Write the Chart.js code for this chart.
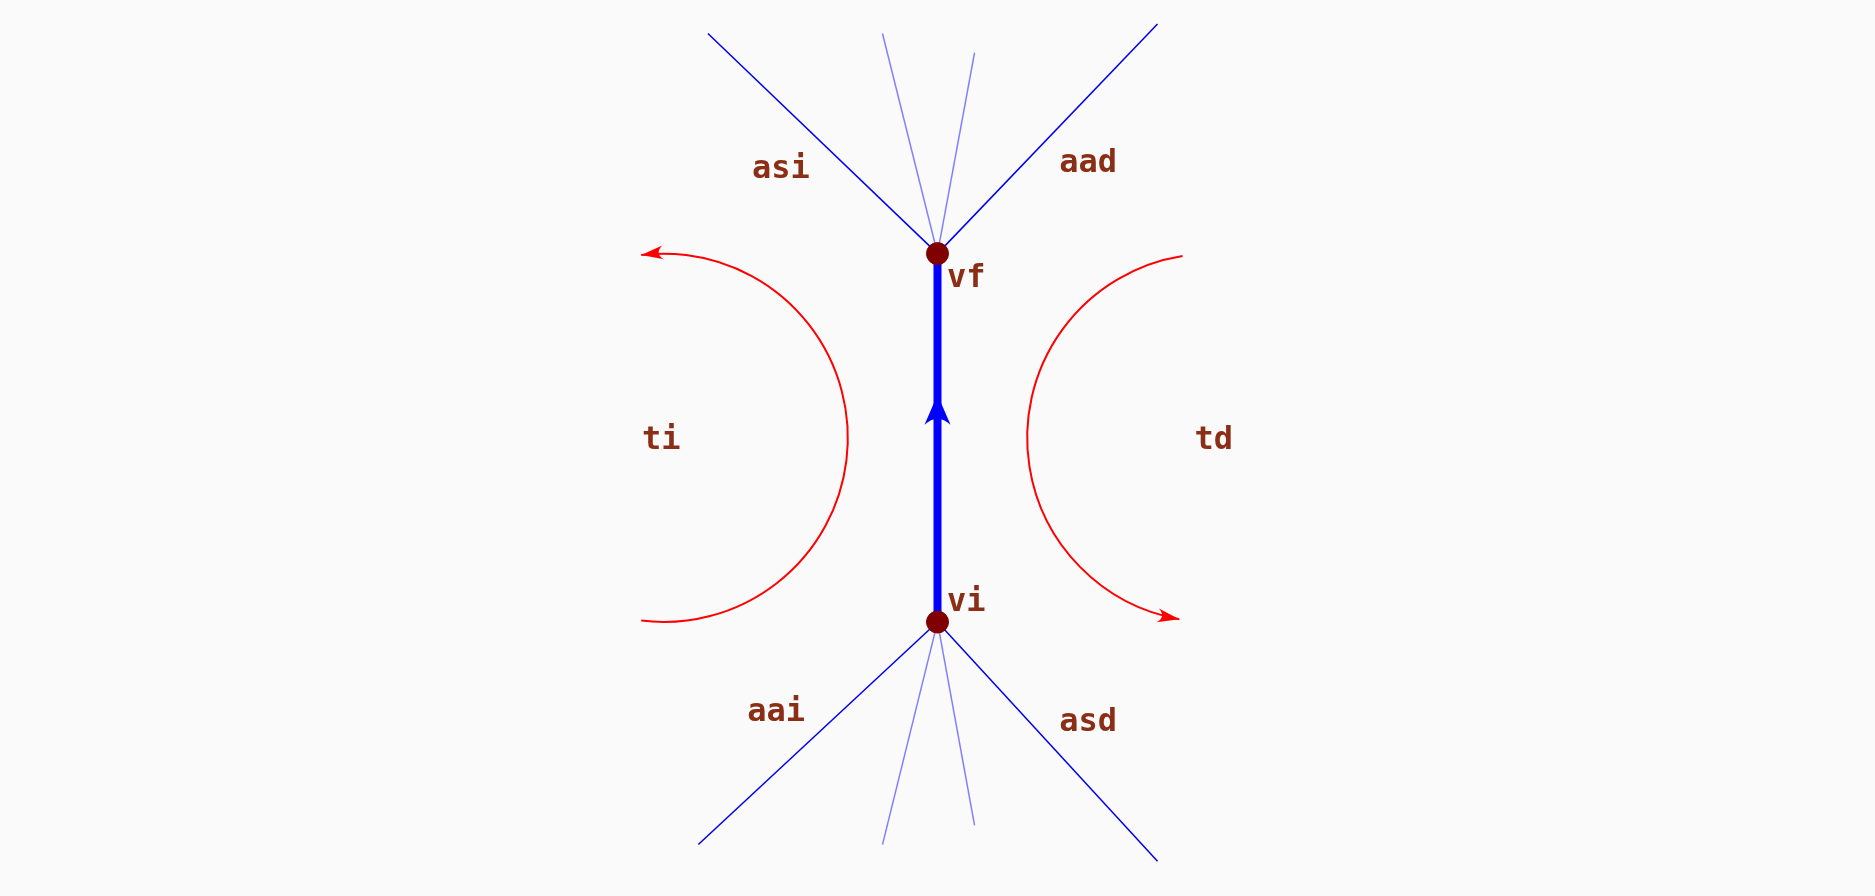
<!DOCTYPE html>
<html><head><meta charset="utf-8">
<script src="https://cdn.jsdelivr.net/npm/chart.js@4"></script>
<style>html,body{margin:0;padding:0;background:#fafafa}#c{display:block}</style>
</head><body><canvas id="c" width="1875" height="896"></canvas>
<script>
// Diagram coordinates in reference units (x 0..1568, y 0..749, y downward)
const vertices = [{label:'vf', x:784, y:212}, {label:'vi', x:784, y:520}];
const outerRaysTop = [[592,28],[968,20]];
const innerRaysTop = [[738,28],[815,44]];
const outerRaysBottom = [[584,706],[968,720]];
const innerRaysBottom = [[738,706],[815,690]];
const labels = [
  ['asi',653,142],['aad',910,137],['vf',792,233],['ti',553,368],
  ['td',1015,368],['vi',792,504],['aai',649,596],['asd',910,604]
];
// arcs: center x, center y, radius, start angle (deg), end angle (deg)
const arcs = [
  {cx:555, cy:366, r:154, a0:97, a1:-97},
  {cx:1013, cy:366, r:154, a0:-99, a1:-260}
];

function seg(from, to, color, w){
  return {type:'line', data:[{x:from[0],y:from[1]},{x:to[0],y:to[1]}], borderColor:color, borderWidth:w, pointRadius:0, showLine:true};
}
const datasets = [];
datasets.push({type:'scatter', data:vertices.map(v=>({x:v.x,y:v.y})), pointRadius:11, pointBackgroundColor:'#800000', pointBorderColor:'#800000'});
datasets.push(seg([vertices[1].x,vertices[1].y],[vertices[0].x,vertices[0].y],'#0000ff',8));
outerRaysTop.forEach(p=>datasets.push(seg([vertices[0].x,vertices[0].y],p,'#0000ee',1.5)));
innerRaysTop.forEach(p=>datasets.push(seg([vertices[0].x,vertices[0].y],p,'#8080ff',1.5)));
outerRaysBottom.forEach(p=>datasets.push(seg([vertices[1].x,vertices[1].y],p,'#0000ee',1.5)));
innerRaysBottom.forEach(p=>datasets.push(seg([vertices[1].x,vertices[1].y],p,'#8080ff',1.5)));

const deco = {
  id:'deco',
  afterDatasetsDraw(chart){
    const ctx=chart.ctx, xs=chart.scales.x, ys=chart.scales.y;
    const k = xs.getPixelForValue(1)-xs.getPixelForValue(0);
    function arrow(px,py,ang,len,wid,color){
      ctx.save();ctx.translate(px,py);ctx.rotate(ang);ctx.fillStyle=color;
      ctx.beginPath();ctx.moveTo(0,0);ctx.lineTo(-len,-wid);ctx.quadraticCurveTo(-len*0.6,0,-len,wid);ctx.closePath();ctx.fill();ctx.restore();
    }
    arcs.forEach(a=>{
      const cx=xs.getPixelForValue(a.cx), cy=ys.getPixelForValue(a.cy), r=a.r*k;
      const s=a.a0*Math.PI/180, e=a.a1*Math.PI/180;
      ctx.save();ctx.strokeStyle='#ff0000';ctx.lineWidth=2;ctx.beginPath();
      ctx.arc(cx,cy,r,s,e,a.a1<a.a0);ctx.stroke();ctx.restore();
      const ex=cx+r*Math.cos(e), ey=cy+r*Math.sin(e);
      const tang = e + (a.a1<a.a0 ? -Math.PI/2 : Math.PI/2);
      arrow(ex, ey, tang, 22, 7, '#ff0000');
    });
    const mx=xs.getPixelForValue(784), my=ys.getPixelForValue(330);
    arrow(mx,my,-Math.PI/2,30,13,'#0000ff');
    ctx.save();ctx.fillStyle='#8b2e16';ctx.font='600 32px "DejaVu Sans Mono"';ctx.textBaseline='middle';
    labels.forEach(l=>{
      ctx.textAlign = (l[0]==='vf'||l[0]==='vi')?'left':'center';
      ctx.fillText(l[0], xs.getPixelForValue(l[1]), ys.getPixelForValue(l[2]));
    });
    ctx.restore();
  }
};
const bg={id:'bg',beforeDraw(c){c.ctx.save();c.ctx.fillStyle='#fafafa';c.ctx.fillRect(0,0,c.width,c.height);c.ctx.restore();}};

new Chart(document.getElementById('c'),{
  type:'scatter',
  data:{datasets},
  options:{responsive:false,animation:false,
    layout:{padding:0,autoPadding:false},
    plugins:{legend:{display:false},tooltip:{enabled:false}},
    scales:{
      x:{type:'linear',min:0,max:1568,display:false},
      y:{type:'linear',min:0,max:749,reverse:true,display:false}
    }},
  plugins:[bg,deco]
});
</script></body></html>
